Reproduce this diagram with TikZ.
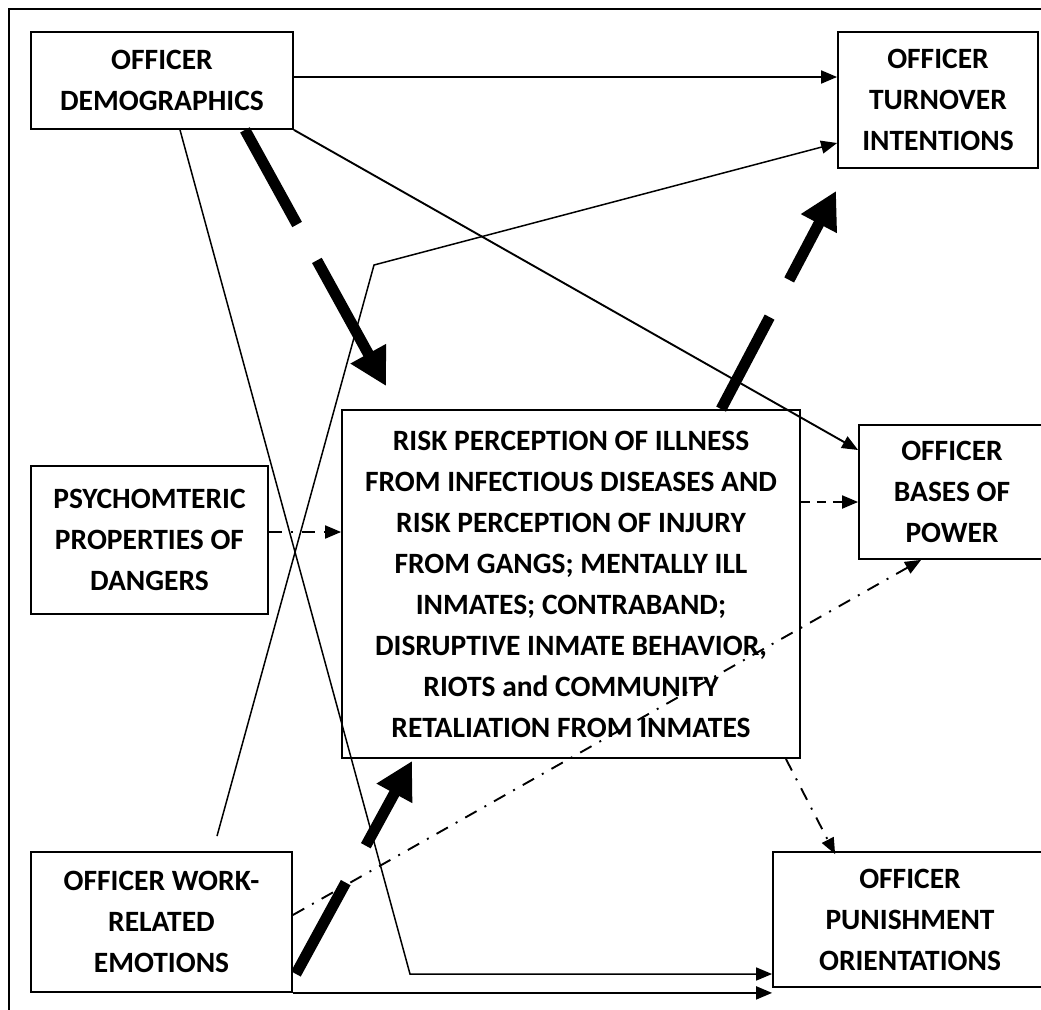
\documentclass[tikz,border=0pt]{standalone}
\usepackage{fontspec}
\setmainfont{Carlito}
\usetikzlibrary{arrows.meta,calc}

\begin{document}
\begin{tikzpicture}[x=1pt,y=-1pt,
  box/.style={draw,line width=1.8pt,rectangle,inner sep=0pt,align=center,
    font=\fontsize{29.5}{41}\selectfont\bfseries},
  link/.style={line width=1.9pt,-{Triangle[length=16pt,width=13pt]}},
  dashlink/.style={link,dash pattern=on 9pt off 7pt},
  dotlink/.style={link,dash pattern=on 13pt off 9pt on 2pt off 9pt},
  heavy/.style={line width=11pt,-{Triangle[length=37pt,width=38pt]}},
]
\useasboundingbox (0,0) rectangle (1041,1009);

% outer frame
\draw[line width=1.8pt] (9,1030) -- (9,9) -- (1060,9);

% variables
\node[box,minimum width=262pt,minimum height=97pt] (demo) at (162,80.5)
  {OFFICER\\DEMOGRAPHICS};
\node[box,minimum width=200pt,minimum height=136pt] (turn) at (938,100)
  {OFFICER\\TURNOVER\\INTENTIONS};
\node[box,minimum width=237pt,minimum height=148pt] (psych) at (149.5,540)
  {PSYCHOMTERIC\\PROPERTIES OF\\DANGERS};
\node[box,minimum width=458pt,minimum height=348pt] (risk) at (571,584)
  {RISK PERCEPTION OF ILLNESS\\FROM INFECTIOUS DISEASES AND\\RISK PERCEPTION OF INJURY\\FROM GANGS; MENTALLY ILL\\INMATES; CONTRABAND;\\DISRUPTIVE INMATE BEHAVIOR,\\RIOTS and COMMUNITY\\RETALIATION FROM INMATES};
\node[box,minimum width=186pt,minimum height=134pt] (bases) at (952,492)
  {OFFICER\\BASES OF\\POWER};
\node[box,minimum width=261pt,minimum height=140pt] (work) at (161.5,922)
  {OFFICER WORK-\\RELATED\\EMOTIONS};
\node[box,minimum width=274pt,minimum height=135pt] (pun) at (910,919.5)
  {OFFICER\\PUNISHMENT\\ORIENTATIONS};

% bend points
\coordinate (bendP) at (410,974);
\coordinate (bendT) at (374,265);

% solid paths
\draw[link] ([yshift=3.5pt]demo.east) -- ([yshift=3.5pt]demo.east -| turn.west);
\draw[link] (demo.south east) -- ([yshift=42pt]bases.west);
\draw[link,line width=1.5pt] ([xshift=18pt]demo.south) -- (bendP) -- (bendP -| pun.west);
\draw[link] (work.south east) -- (work.south east -| pun.west);
\draw[link,line width=1.5pt] ([xshift=55.5pt,yshift=15pt]work.north) -- (bendT) -- ([yshift=-43pt]turn.west);

% heavy dashed paths
\draw[heavy,dash pattern=on 108pt off 41pt] ([xshift=83pt]demo.south) -- ([xshift=45pt,yshift=23pt]risk.north west);
\draw[heavy,dash pattern=on 104pt off 42pt] ([xshift=380pt]risk.north west) -- ([xshift=-1pt,yshift=-22pt]turn.south west);
\draw[heavy,dash pattern=on 104pt off 42pt] ([xshift=3pt,yshift=19pt]work.south east) -- ([xshift=71pt,yshift=-2pt]risk.south west);

% dashed and dash-dotted paths
\draw[dashlink] ([yshift=82pt]risk.east) -- ([yshift=82pt]risk.east -| bases.west);
\draw[dotlink] ([yshift=8pt]psych.east) -- ([yshift=8pt]psych.east -| risk.west);
\draw[dotlink] ([yshift=7pt]work.east) -- ([xshift=63pt]bases.south west);
\draw[dotlink] ([xshift=-15pt]risk.south east) -- ([xshift=63pt,yshift=-3pt]pun.north west);
\end{tikzpicture}
\end{document}
